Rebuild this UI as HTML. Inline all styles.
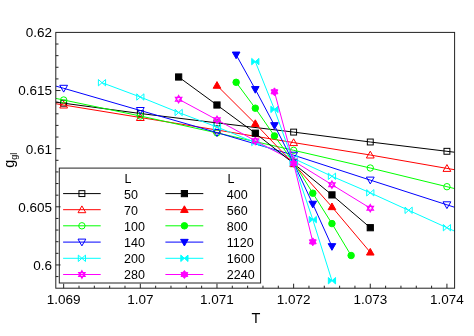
<!DOCTYPE html>
<html><head><meta charset="utf-8"><title>chart</title>
<style>
html,body{margin:0;padding:0;background:#fff;}
body{width:474px;height:336px;overflow:hidden;font-family:"Liberation Sans",sans-serif;}
svg{display:block;will-change:transform;transform:translateZ(0);}
text{font-family:"Liberation Sans",sans-serif;fill:#000;}
</style></head><body>
<svg width="474" height="336" viewBox="0 0 474 336">
<rect x="0" y="0" width="474" height="336" fill="#fff"/>
<defs><clipPath id="c"><rect x="56.0" y="32.4" width="398.6" height="255.79999999999998"/></clipPath></defs>

<g clip-path="url(#c)">
<polyline points="-12.99,93.50 63.67,103.20 140.32,113.50 216.97,122.90 293.63,132.10 370.28,142.00 446.93,151.30 523.59,160.60" fill="none" stroke="#000000" stroke-width="1.0"/>
<rect x="60.72" y="100.25" width="5.90" height="5.90" fill="none" stroke="#000000" stroke-width="1.0"/>
<rect x="137.37" y="110.55" width="5.90" height="5.90" fill="none" stroke="#000000" stroke-width="1.0"/>
<rect x="214.02" y="119.95" width="5.90" height="5.90" fill="none" stroke="#000000" stroke-width="1.0"/>
<rect x="290.68" y="129.15" width="5.90" height="5.90" fill="none" stroke="#000000" stroke-width="1.0"/>
<rect x="367.33" y="139.05" width="5.90" height="5.90" fill="none" stroke="#000000" stroke-width="1.0"/>
<rect x="443.98" y="148.35" width="5.90" height="5.90" fill="none" stroke="#000000" stroke-width="1.0"/>
<polyline points="-12.99,92.50 63.67,105.00 140.32,117.50 216.97,130.00 293.63,142.60 370.28,155.00 446.93,168.40 523.59,181.50" fill="none" stroke="#ff0000" stroke-width="1.0"/>
<polygon points="59.77,108.00 67.57,108.00 63.67,101.20" fill="none" stroke="#ff0000" stroke-width="1.0" stroke-linejoin="miter"/>
<polygon points="136.42,120.50 144.22,120.50 140.32,113.70" fill="none" stroke="#ff0000" stroke-width="1.0" stroke-linejoin="miter"/>
<polygon points="213.07,133.00 220.87,133.00 216.97,126.20" fill="none" stroke="#ff0000" stroke-width="1.0" stroke-linejoin="miter"/>
<polygon points="289.73,145.60 297.53,145.60 293.63,138.80" fill="none" stroke="#ff0000" stroke-width="1.0" stroke-linejoin="miter"/>
<polygon points="366.38,158.00 374.18,158.00 370.28,151.20" fill="none" stroke="#ff0000" stroke-width="1.0" stroke-linejoin="miter"/>
<polygon points="443.03,171.40 450.83,171.40 446.93,164.60" fill="none" stroke="#ff0000" stroke-width="1.0" stroke-linejoin="miter"/>
<polyline points="-12.99,84.50 63.67,100.00 140.32,116.00 216.97,132.90 293.63,150.30 370.28,168.00 446.93,186.70 523.59,205.50" fill="none" stroke="#00ff00" stroke-width="1.0"/>
<circle cx="63.67" cy="100.00" r="3.2" fill="none" stroke="#00ff00" stroke-width="1.0"/>
<circle cx="140.32" cy="116.00" r="3.2" fill="none" stroke="#00ff00" stroke-width="1.0"/>
<circle cx="216.97" cy="132.90" r="3.2" fill="none" stroke="#00ff00" stroke-width="1.0"/>
<circle cx="293.63" cy="150.30" r="3.2" fill="none" stroke="#00ff00" stroke-width="1.0"/>
<circle cx="370.28" cy="168.00" r="3.2" fill="none" stroke="#00ff00" stroke-width="1.0"/>
<circle cx="446.93" cy="186.70" r="3.2" fill="none" stroke="#00ff00" stroke-width="1.0"/>
<polyline points="-12.99,66.50 63.67,88.30 140.32,110.50 216.97,132.60 293.63,155.20 370.28,180.10 446.93,204.80 523.59,229.50" fill="none" stroke="#0000ff" stroke-width="1.0"/>
<polygon points="59.77,85.30 67.57,85.30 63.67,92.10" fill="none" stroke="#0000ff" stroke-width="1.0" stroke-linejoin="miter"/>
<polygon points="136.42,107.50 144.22,107.50 140.32,114.30" fill="none" stroke="#0000ff" stroke-width="1.0" stroke-linejoin="miter"/>
<polygon points="213.07,129.60 220.87,129.60 216.97,136.40" fill="none" stroke="#0000ff" stroke-width="1.0" stroke-linejoin="miter"/>
<polygon points="289.73,152.20 297.53,152.20 293.63,159.00" fill="none" stroke="#0000ff" stroke-width="1.0" stroke-linejoin="miter"/>
<polygon points="366.38,177.10 374.18,177.10 370.28,183.90" fill="none" stroke="#0000ff" stroke-width="1.0" stroke-linejoin="miter"/>
<polygon points="443.03,201.80 450.83,201.80 446.93,208.60" fill="none" stroke="#0000ff" stroke-width="1.0" stroke-linejoin="miter"/>
<polyline points="101.99,82.70 140.32,97.00 178.65,112.50 216.97,127.00 255.30,142.50 293.63,158.50 331.95,176.30 370.28,192.80 408.61,210.30 446.93,227.70 485.26,245.00" fill="none" stroke="#00ffff" stroke-width="1.0"/>
<polygon points="98.39,79.50 98.39,85.90 105.59,79.50 105.59,85.90" fill="none" stroke="#00ffff" stroke-width="1.0" stroke-linejoin="miter"/>
<polygon points="136.72,93.80 136.72,100.20 143.92,93.80 143.92,100.20" fill="none" stroke="#00ffff" stroke-width="1.0" stroke-linejoin="miter"/>
<polygon points="175.05,109.30 175.05,115.70 182.25,109.30 182.25,115.70" fill="none" stroke="#00ffff" stroke-width="1.0" stroke-linejoin="miter"/>
<polygon points="213.37,123.80 213.37,130.20 220.57,123.80 220.57,130.20" fill="none" stroke="#00ffff" stroke-width="1.0" stroke-linejoin="miter"/>
<polygon points="251.70,139.30 251.70,145.70 258.90,139.30 258.90,145.70" fill="none" stroke="#00ffff" stroke-width="1.0" stroke-linejoin="miter"/>
<polygon points="290.03,155.30 290.03,161.70 297.23,155.30 297.23,161.70" fill="none" stroke="#00ffff" stroke-width="1.0" stroke-linejoin="miter"/>
<polygon points="328.35,173.10 328.35,179.50 335.55,173.10 335.55,179.50" fill="none" stroke="#00ffff" stroke-width="1.0" stroke-linejoin="miter"/>
<polygon points="366.68,189.60 366.68,196.00 373.88,189.60 373.88,196.00" fill="none" stroke="#00ffff" stroke-width="1.0" stroke-linejoin="miter"/>
<polygon points="405.01,207.10 405.01,213.50 412.21,207.10 412.21,213.50" fill="none" stroke="#00ffff" stroke-width="1.0" stroke-linejoin="miter"/>
<polygon points="443.33,224.50 443.33,230.90 450.53,224.50 450.53,230.90" fill="none" stroke="#00ffff" stroke-width="1.0" stroke-linejoin="miter"/>
<polyline points="178.65,99.20 216.97,119.80 255.30,140.80 293.63,161.00 331.95,184.70 370.28,208.20" fill="none" stroke="#ff00ff" stroke-width="1.0"/>
<polygon points="178.65,95.50 181.85,101.05 175.44,101.05" fill="none" stroke="#ff00ff" stroke-width="1.2" stroke-linejoin="miter"/><polygon points="178.65,102.90 175.44,97.35 181.85,97.35" fill="none" stroke="#ff00ff" stroke-width="1.2" stroke-linejoin="miter"/>
<polygon points="216.97,116.10 220.18,121.65 213.77,121.65" fill="none" stroke="#ff00ff" stroke-width="1.2" stroke-linejoin="miter"/><polygon points="216.97,123.50 213.77,117.95 220.18,117.95" fill="none" stroke="#ff00ff" stroke-width="1.2" stroke-linejoin="miter"/>
<polygon points="255.30,137.10 258.50,142.65 252.10,142.65" fill="none" stroke="#ff00ff" stroke-width="1.2" stroke-linejoin="miter"/><polygon points="255.30,144.50 252.10,138.95 258.50,138.95" fill="none" stroke="#ff00ff" stroke-width="1.2" stroke-linejoin="miter"/>
<polygon points="293.63,157.30 296.83,162.85 290.42,162.85" fill="none" stroke="#ff00ff" stroke-width="1.2" stroke-linejoin="miter"/><polygon points="293.63,164.70 290.42,159.15 296.83,159.15" fill="none" stroke="#ff00ff" stroke-width="1.2" stroke-linejoin="miter"/>
<polygon points="331.95,181.00 335.16,186.55 328.75,186.55" fill="none" stroke="#ff00ff" stroke-width="1.2" stroke-linejoin="miter"/><polygon points="331.95,188.40 328.75,182.85 335.16,182.85" fill="none" stroke="#ff00ff" stroke-width="1.2" stroke-linejoin="miter"/>
<polygon points="370.28,204.50 373.49,210.05 367.08,210.05" fill="none" stroke="#ff00ff" stroke-width="1.2" stroke-linejoin="miter"/><polygon points="370.28,211.90 367.08,206.35 373.49,206.35" fill="none" stroke="#ff00ff" stroke-width="1.2" stroke-linejoin="miter"/>
<polyline points="178.65,77.00 216.97,105.00 255.30,133.20 293.63,163.50 331.95,194.90 370.28,227.70" fill="none" stroke="#000000" stroke-width="1.0"/>
<rect x="175.55" y="73.90" width="6.20" height="6.20" fill="#000000" stroke="#000000" stroke-width="1.0"/>
<rect x="213.87" y="101.90" width="6.20" height="6.20" fill="#000000" stroke="#000000" stroke-width="1.0"/>
<rect x="252.20" y="130.10" width="6.20" height="6.20" fill="#000000" stroke="#000000" stroke-width="1.0"/>
<rect x="290.53" y="160.40" width="6.20" height="6.20" fill="#000000" stroke="#000000" stroke-width="1.0"/>
<rect x="328.85" y="191.80" width="6.20" height="6.20" fill="#000000" stroke="#000000" stroke-width="1.0"/>
<rect x="367.18" y="224.60" width="6.20" height="6.20" fill="#000000" stroke="#000000" stroke-width="1.0"/>
<polyline points="216.97,85.50 255.30,123.70 293.63,163.80 331.95,206.90 370.28,252.30" fill="none" stroke="#ff0000" stroke-width="1.0"/>
<polygon points="213.17,88.25 220.77,88.25 216.97,81.60" fill="#ff0000" stroke="#ff0000" stroke-width="1.0" stroke-linejoin="miter"/>
<polygon points="251.50,126.45 259.10,126.45 255.30,119.80" fill="#ff0000" stroke="#ff0000" stroke-width="1.0" stroke-linejoin="miter"/>
<polygon points="289.83,166.55 297.43,166.55 293.63,159.90" fill="#ff0000" stroke="#ff0000" stroke-width="1.0" stroke-linejoin="miter"/>
<polygon points="328.15,209.65 335.75,209.65 331.95,203.00" fill="#ff0000" stroke="#ff0000" stroke-width="1.0" stroke-linejoin="miter"/>
<polygon points="366.48,255.05 374.08,255.05 370.28,248.40" fill="#ff0000" stroke="#ff0000" stroke-width="1.0" stroke-linejoin="miter"/>
<polyline points="236.14,82.30 255.30,108.20 274.46,135.90 293.63,162.40 312.79,193.20 331.95,223.60 351.12,255.50" fill="none" stroke="#00ff00" stroke-width="1.0"/>
<circle cx="236.14" cy="82.30" r="3.25" fill="#00ff00" stroke="#00ff00" stroke-width="1.0"/>
<circle cx="255.30" cy="108.20" r="3.25" fill="#00ff00" stroke="#00ff00" stroke-width="1.0"/>
<circle cx="274.46" cy="135.90" r="3.25" fill="#00ff00" stroke="#00ff00" stroke-width="1.0"/>
<circle cx="293.63" cy="162.40" r="3.25" fill="#00ff00" stroke="#00ff00" stroke-width="1.0"/>
<circle cx="312.79" cy="193.20" r="3.25" fill="#00ff00" stroke="#00ff00" stroke-width="1.0"/>
<circle cx="331.95" cy="223.60" r="3.25" fill="#00ff00" stroke="#00ff00" stroke-width="1.0"/>
<circle cx="351.12" cy="255.50" r="3.25" fill="#00ff00" stroke="#00ff00" stroke-width="1.0"/>
<polyline points="236.14,54.80 255.30,89.30 274.46,125.40 293.63,162.80 312.79,204.00 331.95,246.40" fill="none" stroke="#0000ff" stroke-width="1.0"/>
<polygon points="232.34,52.05 239.94,52.05 236.14,58.70" fill="#0000ff" stroke="#0000ff" stroke-width="1.0" stroke-linejoin="miter"/>
<polygon points="251.50,86.55 259.10,86.55 255.30,93.20" fill="#0000ff" stroke="#0000ff" stroke-width="1.0" stroke-linejoin="miter"/>
<polygon points="270.66,122.65 278.26,122.65 274.46,129.30" fill="#0000ff" stroke="#0000ff" stroke-width="1.0" stroke-linejoin="miter"/>
<polygon points="289.83,160.05 297.43,160.05 293.63,166.70" fill="#0000ff" stroke="#0000ff" stroke-width="1.0" stroke-linejoin="miter"/>
<polygon points="308.99,201.25 316.59,201.25 312.79,207.90" fill="#0000ff" stroke="#0000ff" stroke-width="1.0" stroke-linejoin="miter"/>
<polygon points="328.15,243.65 335.75,243.65 331.95,250.30" fill="#0000ff" stroke="#0000ff" stroke-width="1.0" stroke-linejoin="miter"/>
<polyline points="255.30,61.60 274.46,109.40 293.63,163.00 312.79,219.60 331.95,280.70" fill="none" stroke="#00ffff" stroke-width="1.0"/>
<polygon points="251.70,58.40 251.70,64.80 258.90,58.40 258.90,64.80" fill="#00ffff" stroke="#00ffff" stroke-width="1.0" stroke-linejoin="miter"/>
<polygon points="270.86,106.20 270.86,112.60 278.06,106.20 278.06,112.60" fill="#00ffff" stroke="#00ffff" stroke-width="1.0" stroke-linejoin="miter"/>
<polygon points="290.03,159.80 290.03,166.20 297.23,159.80 297.23,166.20" fill="#00ffff" stroke="#00ffff" stroke-width="1.0" stroke-linejoin="miter"/>
<polygon points="309.19,216.40 309.19,222.80 316.39,216.40 316.39,222.80" fill="#00ffff" stroke="#00ffff" stroke-width="1.0" stroke-linejoin="miter"/>
<polygon points="328.35,277.50 328.35,283.90 335.55,277.50 335.55,283.90" fill="#00ffff" stroke="#00ffff" stroke-width="1.0" stroke-linejoin="miter"/>
<polyline points="274.46,91.80 293.63,163.40 312.79,241.80" fill="none" stroke="#ff00ff" stroke-width="1.0"/>
<polygon points="274.46,87.85 275.71,89.63 277.88,89.83 276.96,91.80 277.88,93.77 275.71,93.97 274.46,95.75 273.21,93.97 271.04,93.78 271.96,91.80 271.04,89.83 273.21,89.63" fill="#ff00ff" stroke="#ff00ff" stroke-width="1.0" stroke-linejoin="miter"/>
<polygon points="293.63,159.45 294.88,161.23 297.05,161.43 296.13,163.40 297.05,165.38 294.88,165.57 293.63,167.35 292.38,165.57 290.21,165.38 291.13,163.40 290.21,161.43 292.38,161.23" fill="#ff00ff" stroke="#ff00ff" stroke-width="1.0" stroke-linejoin="miter"/>
<polygon points="312.79,237.85 314.04,239.63 316.21,239.83 315.29,241.80 316.21,243.78 314.04,243.97 312.79,245.75 311.54,243.97 309.37,243.78 310.29,241.80 309.37,239.83 311.54,239.63" fill="#ff00ff" stroke="#ff00ff" stroke-width="1.0" stroke-linejoin="miter"/>
</g>
<rect x="59.3" y="168.1" width="201.3" height="114.9" fill="#fff" stroke="#222" stroke-width="1"/>
<text x="124.6" y="182.6" font-size="12.5">L</text>
<text x="227.4" y="182.6" font-size="12.5">L</text>
<line x1="63.1" y1="193.6" x2="100.7" y2="193.6" stroke="#000000" stroke-width="1.0"/>
<rect x="78.95" y="190.65" width="5.90" height="5.90" fill="none" stroke="#000000" stroke-width="1.0"/>
<text x="124.0" y="198.5" font-size="12.5">50</text>
<line x1="63.1" y1="209.7" x2="100.7" y2="209.7" stroke="#ff0000" stroke-width="1.0"/>
<polygon points="78.00,212.70 85.80,212.70 81.90,205.90" fill="none" stroke="#ff0000" stroke-width="1.0" stroke-linejoin="miter"/>
<text x="124.0" y="214.6" font-size="12.5">70</text>
<line x1="63.1" y1="225.79999999999998" x2="100.7" y2="225.79999999999998" stroke="#00ff00" stroke-width="1.0"/>
<circle cx="81.90" cy="225.80" r="3.2" fill="none" stroke="#00ff00" stroke-width="1.0"/>
<text x="124.0" y="230.7" font-size="12.5">100</text>
<line x1="63.1" y1="242.1" x2="100.7" y2="242.1" stroke="#0000ff" stroke-width="1.0"/>
<polygon points="78.00,239.10 85.80,239.10 81.90,245.90" fill="none" stroke="#0000ff" stroke-width="1.0" stroke-linejoin="miter"/>
<text x="124.0" y="247.0" font-size="12.5">140</text>
<line x1="63.1" y1="258.3" x2="100.7" y2="258.3" stroke="#00ffff" stroke-width="1.0"/>
<polygon points="78.30,255.10 78.30,261.50 85.50,255.10 85.50,261.50" fill="none" stroke="#00ffff" stroke-width="1.0" stroke-linejoin="miter"/>
<text x="124.0" y="263.2" font-size="12.5">200</text>
<line x1="63.1" y1="274.5" x2="100.7" y2="274.5" stroke="#ff00ff" stroke-width="1.0"/>
<polygon points="81.90,270.80 85.10,276.35 78.70,276.35" fill="none" stroke="#ff00ff" stroke-width="1.2" stroke-linejoin="miter"/><polygon points="81.90,278.20 78.70,272.65 85.10,272.65" fill="none" stroke="#ff00ff" stroke-width="1.2" stroke-linejoin="miter"/>
<text x="124.0" y="279.4" font-size="12.5">280</text>
<line x1="165.4" y1="193.6" x2="203.3" y2="193.6" stroke="#000000" stroke-width="1.0"/>
<rect x="181.30" y="190.50" width="6.20" height="6.20" fill="#000000" stroke="#000000" stroke-width="1.0"/>
<text x="226.8" y="198.5" font-size="12.5">400</text>
<line x1="165.4" y1="209.7" x2="203.3" y2="209.7" stroke="#ff0000" stroke-width="1.0"/>
<polygon points="180.60,212.45 188.20,212.45 184.40,205.80" fill="#ff0000" stroke="#ff0000" stroke-width="1.0" stroke-linejoin="miter"/>
<text x="226.8" y="214.6" font-size="12.5">560</text>
<line x1="165.4" y1="225.79999999999998" x2="203.3" y2="225.79999999999998" stroke="#00ff00" stroke-width="1.0"/>
<circle cx="184.40" cy="225.80" r="3.25" fill="#00ff00" stroke="#00ff00" stroke-width="1.0"/>
<text x="226.8" y="230.7" font-size="12.5">800</text>
<line x1="165.4" y1="242.1" x2="203.3" y2="242.1" stroke="#0000ff" stroke-width="1.0"/>
<polygon points="180.60,239.35 188.20,239.35 184.40,246.00" fill="#0000ff" stroke="#0000ff" stroke-width="1.0" stroke-linejoin="miter"/>
<text x="226.8" y="247.0" font-size="12.5">1120</text>
<line x1="165.4" y1="258.3" x2="203.3" y2="258.3" stroke="#00ffff" stroke-width="1.0"/>
<polygon points="180.80,255.10 180.80,261.50 188.00,255.10 188.00,261.50" fill="#00ffff" stroke="#00ffff" stroke-width="1.0" stroke-linejoin="miter"/>
<text x="226.8" y="263.2" font-size="12.5">1600</text>
<line x1="165.4" y1="274.5" x2="203.3" y2="274.5" stroke="#ff00ff" stroke-width="1.0"/>
<polygon points="184.40,270.55 185.65,272.33 187.82,272.52 186.90,274.50 187.82,276.48 185.65,276.67 184.40,278.45 183.15,276.67 180.98,276.48 181.90,274.50 180.98,272.52 183.15,272.33" fill="#ff00ff" stroke="#ff00ff" stroke-width="1.0" stroke-linejoin="miter"/>
<text x="226.8" y="279.4" font-size="12.5">2240</text>
<rect x="55.8" y="32.4" width="398.8" height="255.79999999999998" fill="none" stroke="#222" stroke-width="1.0"/>
<line x1="63.67" y1="288.2" x2="63.67" y2="283.7" stroke="#222" stroke-width="1"/>
<text x="63.67" y="303.6" font-size="13.5" text-anchor="middle">1.069</text>
<line x1="79.00" y1="288.2" x2="79.00" y2="285.7" stroke="#222" stroke-width="1"/>
<line x1="94.33" y1="288.2" x2="94.33" y2="285.7" stroke="#222" stroke-width="1"/>
<line x1="109.66" y1="288.2" x2="109.66" y2="285.7" stroke="#222" stroke-width="1"/>
<line x1="124.99" y1="288.2" x2="124.99" y2="285.7" stroke="#222" stroke-width="1"/>
<line x1="140.32" y1="288.2" x2="140.32" y2="283.7" stroke="#222" stroke-width="1"/>
<text x="140.32" y="303.6" font-size="13.5" text-anchor="middle">1.07</text>
<line x1="155.65" y1="288.2" x2="155.65" y2="285.7" stroke="#222" stroke-width="1"/>
<line x1="170.98" y1="288.2" x2="170.98" y2="285.7" stroke="#222" stroke-width="1"/>
<line x1="186.31" y1="288.2" x2="186.31" y2="285.7" stroke="#222" stroke-width="1"/>
<line x1="201.64" y1="288.2" x2="201.64" y2="285.7" stroke="#222" stroke-width="1"/>
<line x1="216.97" y1="288.2" x2="216.97" y2="283.7" stroke="#222" stroke-width="1"/>
<text x="216.97" y="303.6" font-size="13.5" text-anchor="middle">1.071</text>
<line x1="232.30" y1="288.2" x2="232.30" y2="285.7" stroke="#222" stroke-width="1"/>
<line x1="247.63" y1="288.2" x2="247.63" y2="285.7" stroke="#222" stroke-width="1"/>
<line x1="262.97" y1="288.2" x2="262.97" y2="285.7" stroke="#222" stroke-width="1"/>
<line x1="278.30" y1="288.2" x2="278.30" y2="285.7" stroke="#222" stroke-width="1"/>
<line x1="293.63" y1="288.2" x2="293.63" y2="283.7" stroke="#222" stroke-width="1"/>
<text x="293.63" y="303.6" font-size="13.5" text-anchor="middle">1.072</text>
<line x1="308.96" y1="288.2" x2="308.96" y2="285.7" stroke="#222" stroke-width="1"/>
<line x1="324.29" y1="288.2" x2="324.29" y2="285.7" stroke="#222" stroke-width="1"/>
<line x1="339.62" y1="288.2" x2="339.62" y2="285.7" stroke="#222" stroke-width="1"/>
<line x1="354.95" y1="288.2" x2="354.95" y2="285.7" stroke="#222" stroke-width="1"/>
<line x1="370.28" y1="288.2" x2="370.28" y2="283.7" stroke="#222" stroke-width="1"/>
<text x="370.28" y="303.6" font-size="13.5" text-anchor="middle">1.073</text>
<line x1="385.61" y1="288.2" x2="385.61" y2="285.7" stroke="#222" stroke-width="1"/>
<line x1="400.94" y1="288.2" x2="400.94" y2="285.7" stroke="#222" stroke-width="1"/>
<line x1="416.27" y1="288.2" x2="416.27" y2="285.7" stroke="#222" stroke-width="1"/>
<line x1="431.60" y1="288.2" x2="431.60" y2="285.7" stroke="#222" stroke-width="1"/>
<line x1="446.93" y1="288.2" x2="446.93" y2="283.7" stroke="#222" stroke-width="1"/>
<text x="446.93" y="303.6" font-size="13.5" text-anchor="middle">1.074</text>
<line x1="55.8" y1="276.57" x2="58.5" y2="276.57" stroke="#222" stroke-width="1"/>
<line x1="55.8" y1="264.95" x2="60.5" y2="264.95" stroke="#222" stroke-width="1"/>
<line x1="55.8" y1="253.32" x2="58.5" y2="253.32" stroke="#222" stroke-width="1"/>
<line x1="55.8" y1="241.69" x2="58.5" y2="241.69" stroke="#222" stroke-width="1"/>
<line x1="55.8" y1="230.06" x2="58.5" y2="230.06" stroke="#222" stroke-width="1"/>
<line x1="55.8" y1="218.44" x2="58.5" y2="218.44" stroke="#222" stroke-width="1"/>
<line x1="55.8" y1="206.81" x2="60.5" y2="206.81" stroke="#222" stroke-width="1"/>
<line x1="55.8" y1="195.18" x2="58.5" y2="195.18" stroke="#222" stroke-width="1"/>
<line x1="55.8" y1="183.55" x2="58.5" y2="183.55" stroke="#222" stroke-width="1"/>
<line x1="55.8" y1="171.93" x2="58.5" y2="171.93" stroke="#222" stroke-width="1"/>
<line x1="55.8" y1="160.30" x2="58.5" y2="160.30" stroke="#222" stroke-width="1"/>
<line x1="55.8" y1="148.67" x2="60.5" y2="148.67" stroke="#222" stroke-width="1"/>
<line x1="55.8" y1="137.05" x2="58.5" y2="137.05" stroke="#222" stroke-width="1"/>
<line x1="55.8" y1="125.42" x2="58.5" y2="125.42" stroke="#222" stroke-width="1"/>
<line x1="55.8" y1="113.79" x2="58.5" y2="113.79" stroke="#222" stroke-width="1"/>
<line x1="55.8" y1="102.16" x2="58.5" y2="102.16" stroke="#222" stroke-width="1"/>
<line x1="55.8" y1="90.54" x2="60.5" y2="90.54" stroke="#222" stroke-width="1"/>
<line x1="55.8" y1="78.91" x2="58.5" y2="78.91" stroke="#222" stroke-width="1"/>
<line x1="55.8" y1="67.28" x2="58.5" y2="67.28" stroke="#222" stroke-width="1"/>
<line x1="55.8" y1="55.65" x2="58.5" y2="55.65" stroke="#222" stroke-width="1"/>
<line x1="55.8" y1="44.03" x2="58.5" y2="44.03" stroke="#222" stroke-width="1"/>
<text x="52" y="269.90" font-size="13.5" text-anchor="end">0.6</text>
<text x="52" y="211.76" font-size="13.5" text-anchor="end">0.605</text>
<text x="52" y="153.62" font-size="13.5" text-anchor="end">0.61</text>
<text x="52" y="95.49" font-size="13.5" text-anchor="end">0.615</text>
<text x="52" y="37.35" font-size="13.5" text-anchor="end">0.62</text>
<text x="255.9" y="322.9" font-size="14.5" text-anchor="middle">T</text>
<text transform="translate(13.6,167.8) rotate(-90)" font-size="14.5">g<tspan font-size="9" dy="3.7">gl</tspan></text>
</svg></body></html>
